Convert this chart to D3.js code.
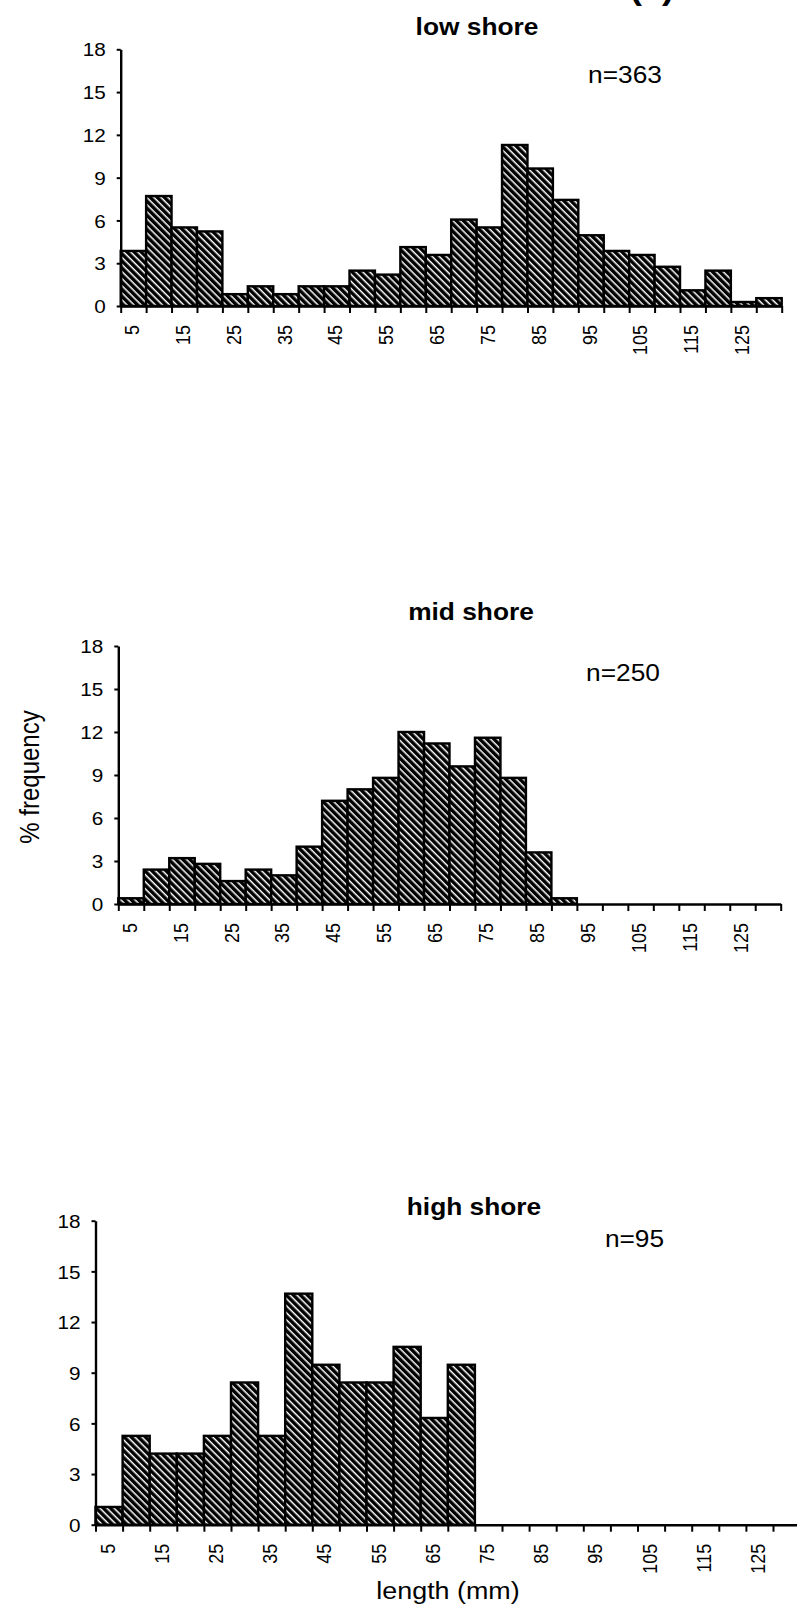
<!DOCTYPE html>
<html><head><meta charset="utf-8">
<script src="https://cdn.jsdelivr.net/npm/d3@7"></script>
<style>html,body{margin:0;padding:0;background:#fff;overflow:hidden}</style>
</head><body>
<svg id="chart" width="797" height="1609"></svg>
<script>
// ---------------- data ----------------
const bins = ["5","10","15","20","25","30","35","40","45","50","55","60","65","70","75","80","85","90","95","100","105","110","115","120","125","130"];
const tickLabels = ["5","15","25","35","45","55","65","75","85","95","105","115","125"];
const yTicks = [0,3,6,9,12,15,18];
const lowShore  = [3.86,7.71,5.51,5.23,0.83,1.38,0.83,1.38,1.38,2.48,2.20,4.13,3.58,6.06,5.51,11.29,9.64,7.44,4.96,3.86,3.58,2.75,1.10,2.48,0.28,0.55];
const midShore  = [0.4,2.4,3.2,2.8,1.6,2.4,2.0,4.0,7.2,8.0,8.8,12.0,11.2,9.6,11.6,8.8,3.6,0.4,0,0,0,0,0,0,0,0];
const highShore = [1.05,5.26,4.21,4.21,5.26,8.42,5.26,13.68,9.47,8.42,8.42,10.53,6.32,9.47,0,0,0,0,0,0,0,0,0,0,0,0];
const panelTitles = ["low shore","mid shore","high shore"];
const sampleSizes = ["n=363","n=250","n=95"];
const yLabel = "% frequency";
const xLabel = "length (mm)";
const figLabel = "(a)";

// ---------------- layout ----------------
const series = [lowShore, midShore, highShore];
const layout = [
  {x0:120.7, x1:781.7, yBase:306,    yTop:49.3,   titleX:477, titleY:35,   nX:625,   nY:83.3},
  {x0:118.3, x1:780.7, yBase:904,    yTop:646,    titleX:471, titleY:620,  nX:623,   nY:680.5},
  {x0:95.5,  x1:800.1, yBase:1524.7, yTop:1220.7, titleX:474, titleY:1215, nX:634.5, nY:1246.5}
];
const FONT = "'Liberation Sans', Arial, Helvetica, sans-serif";
const SX = 1.12; // horizontal stretch of the scanned figure

const svg = d3.select("#chart");
const defs = svg.append("defs");
const pat = defs.append("pattern")
  .attr("id","hatch").attr("patternUnits","userSpaceOnUse")
  .attr("width",5).attr("height",10)
  .attr("patternTransform","rotate(-45)");
pat.append("rect").attr("width",5).attr("height",10).attr("fill","#fff");
pat.append("rect").attr("width",3.5).attr("height",10).attr("fill","#000");

function hText(sel, txt, x, y, size, weight, anchor){
  return sel.append("text").text(txt)
    .attr("transform",`translate(${x},${y}) scale(${SX},1)`)
    .attr("font-family",FONT).attr("font-size",size)
    .attr("font-weight",weight||"normal")
    .attr("text-anchor",anchor||"middle").attr("fill","#000");
}

series.forEach((vals,i)=>{
  const L = layout[i];
  const g = svg.append("g");
  const x = d3.scaleBand().domain(bins).range([L.x0,L.x1]).paddingInner(0).paddingOuter(0);
  const y = d3.scaleLinear().domain([0,18]).range([L.yBase,L.yTop]);
  const edge = d3.scaleLinear().domain([0,bins.length]).range([L.x0,L.x1]);

  // bars
  g.append("g").selectAll("rect")
    .data(bins.map((b,k)=>({b,v:vals[k]})).filter(d=>d.v>0))
    .join("rect")
    .attr("x",d=>x(d.b)).attr("y",d=>y(d.v))
    .attr("width",x.bandwidth()).attr("height",d=>L.yBase-y(d.v))
    .attr("fill","url(#hatch)").attr("stroke","#000").attr("stroke-width",2.4);

  // x axis: ticks at bin edges
  const xa = g.append("g").attr("transform",`translate(0,${L.yBase})`)
    .call(d3.axisBottom(edge).tickValues(d3.range(bins.length+1)).tickSize(7).tickSizeOuter(0).tickFormat(""));
  xa.select(".domain").attr("stroke","#000").attr("stroke-width",2.4);
  xa.selectAll(".tick line").attr("stroke","#000").attr("stroke-width",2);

  // x labels at bin centres
  const xl = g.append("g").attr("transform",`translate(0,${L.yBase})`)
    .call(d3.axisBottom(x).tickValues(tickLabels).tickSize(0).tickSizeOuter(0));
  xl.select(".domain").remove();
  xl.selectAll(".tick text")
    .attr("x",0).attr("y",0).attr("dy","0.35em")
    .attr("transform",`translate(-1.5,19) rotate(-90) scale(1,${SX})`)
    .attr("text-anchor","end")
    .attr("font-family",FONT).attr("font-size",18).attr("fill","#000");

  // y axis
  const ya = g.append("g").attr("transform",`translate(${L.x0},0)`)
    .call(d3.axisLeft(y).tickValues(yTicks).tickSize(4).tickSizeOuter(0).tickFormat(d3.format("d")));
  ya.select(".domain").attr("stroke","#000").attr("stroke-width",2.4);
  ya.selectAll(".tick line").attr("stroke","#000").attr("stroke-width",2);
  ya.selectAll(".tick text")
    .attr("x",0).attr("dy","0.36em")
    .attr("transform",`translate(-15,0) scale(${SX},1)`)
    .attr("text-anchor","end")
    .attr("font-family",FONT).attr("font-size",18.5).attr("fill","#000");

  // title and n
  hText(g, panelTitles[i], L.titleX, L.titleY, 23.5, "bold");
  hText(g, sampleSizes[i], L.nX, L.nY, 23.5, "normal");
});

// axis titles
svg.append("text").text(yLabel)
  .attr("transform",`translate(39,777) rotate(-90) scale(1,${SX})`)
  .attr("text-anchor","middle").attr("font-family",FONT).attr("font-size",24).attr("fill","#000");
hText(svg, xLabel, 448, 1599, 24, "normal");

// figure label (cut at top edge, as in the reference)
hText(svg, figLabel, 652, -1.5, 32, "bold");
</script>
</body></html>
